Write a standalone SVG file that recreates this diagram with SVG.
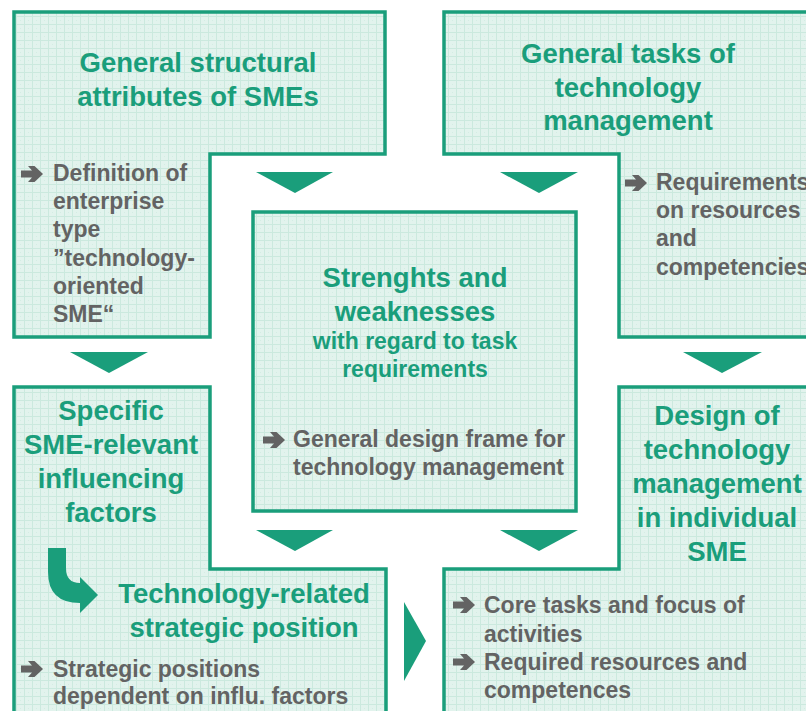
<svg xmlns="http://www.w3.org/2000/svg" width="806" height="711" viewBox="0 0 806 711">
<style>
.box{fill:url(#grid);stroke:#1a9e7b;stroke-width:3.5;stroke-linejoin:miter}
.tri{fill:#1a9e7b}
.t{font-family:"Liberation Sans",Arial,sans-serif;font-weight:bold;font-size:27.5px;fill:#1a9e7b;text-anchor:middle}
.s{font-family:"Liberation Sans",Arial,sans-serif;font-weight:bold;font-size:23px;fill:#1a9e7b;text-anchor:middle}
.g{font-family:"Liberation Sans",Arial,sans-serif;font-weight:bold;font-size:23px;fill:#636363}
.b{fill:#636363}
</style>
<defs>
<pattern id="grid" width="8" height="8" patternUnits="userSpaceOnUse">
<rect width="8" height="8" fill="#e2f3ed"/>
<path d="M0,0.5H8M0.5,0V8" stroke="#cbe9de" stroke-width="1"/>
<rect x="4" y="4" width="1" height="1" fill="#d4ede4"/>
</pattern>
<path id="bul" d="M0,-3.5H11L7,-8H13.5L22,0L13.5,8H7L11,3.5H0Z"/>
</defs>
<rect width="806" height="711" fill="#ffffff"/>

<g id="node-structural">
<path class="box" d="M14,12H385V154H210V337H14Z"/>
<text class="t" x="198" y="72">General structural</text>
<text class="t" x="198" y="106">attributes of SMEs</text>
<use href="#bul" class="b" x="21" y="174"/>
<text class="g" x="53" y="181">Definition of</text>
<text class="g" x="53" y="209.2">enterprise</text>
<text class="g" x="53" y="237.4">type</text>
<text class="g" x="53" y="265.6">”technology-</text>
<text class="g" x="53" y="293.8">oriented</text>
<text class="g" x="53" y="322">SME“</text>
</g>

<g id="node-tasks">
<path class="box" d="M444,12H812V337H619V154H444Z"/>
<text class="t" x="628" y="63">General tasks of</text>
<text class="t" x="628" y="97">technology</text>
<text class="t" x="628" y="130">management</text>
<use href="#bul" class="b" x="625" y="183"/>
<text class="g" x="656" y="190">Requirements</text>
<text class="g" x="656" y="218.2">on resources</text>
<text class="g" x="656" y="246.4">and</text>
<text class="g" x="656" y="274.6">competencies</text>
</g>

<g id="node-strengths">
<rect class="box" x="253" y="212" width="323" height="299"/>
<text class="t" x="415" y="287">Strenghts and</text>
<text class="t" x="415" y="321">weaknesses</text>
<text class="s" x="415" y="349">with regard to task</text>
<text class="s" x="415" y="377">requirements</text>
<use href="#bul" class="b" x="263" y="440"/>
<text class="g" x="293" y="447">General design frame for</text>
<text class="g" x="293" y="474.5">technology management</text>
</g>

<g id="node-factors">
<path class="box" d="M14,387H210V569H386V730H14Z"/>
<text class="t" x="111" y="420">Specific</text>
<text class="t" x="111" y="454">SME-relevant</text>
<text class="t" x="111" y="488">influencing</text>
<text class="t" x="111" y="522">factors</text>
<path class="tri" d="M48,548H66V568Q66,583 80,583V577L98,595L80,613V603Q48,603 48,572Z"/>
<text class="t" x="244" y="603">Technology-related</text>
<text class="t" x="244" y="637">strategic position</text>
<use href="#bul" class="b" x="21" y="669"/>
<text class="g" x="53" y="677">Strategic positions</text>
<text class="g" x="53" y="704">dependent on influ. factors</text>
</g>

<g id="node-design">
<path class="box" d="M619,387H812V730H444V569H619Z"/>
<text class="t" x="717" y="425">Design of</text>
<text class="t" x="717" y="459">technology</text>
<text class="t" x="717" y="493">management</text>
<text class="t" x="717" y="527">in individual</text>
<text class="t" x="717" y="561">SME</text>
<use href="#bul" class="b" x="453" y="605"/>
<text class="g" x="484" y="613">Core tasks and focus of</text>
<text class="g" x="484" y="641.5">activities</text>
<use href="#bul" class="b" x="453" y="662"/>
<text class="g" x="484" y="670">Required resources and</text>
<text class="g" x="484" y="698">competences</text>
</g>

<g id="connectors">
<polygon class="tri" points="256,172 333,172 295,193"/>
<polygon class="tri" points="500,172 578,172 539,193"/>
<polygon class="tri" points="70,352 148,352 109,373"/>
<polygon class="tri" points="683,352 762,352 722,373"/>
<polygon class="tri" points="256,530 333,530 295,551"/>
<polygon class="tri" points="500,530 578,530 539,551"/>
<polygon class="tri" points="404,602 426,641 404,681"/>
</g>
</svg>
